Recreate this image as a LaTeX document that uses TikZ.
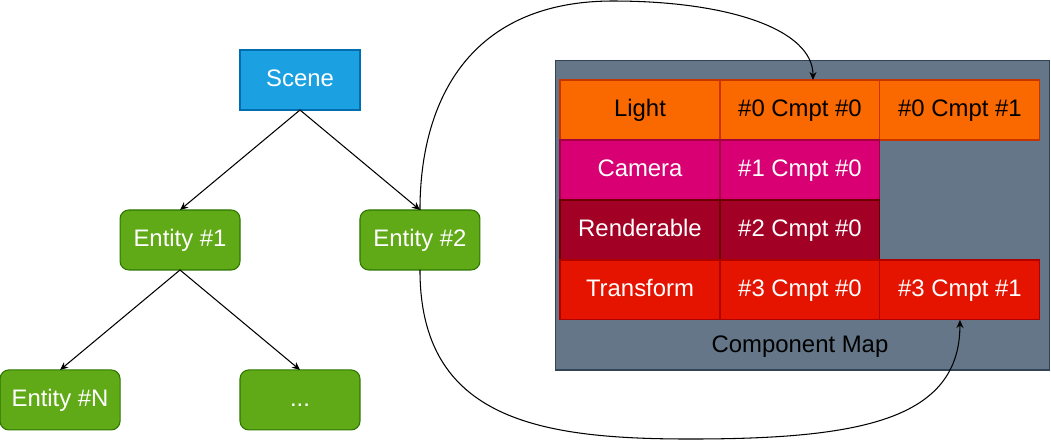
\documentclass[tikz,border=0pt]{standalone}
\usepackage{fontspec}
\setmainfont{Liberation Sans}
\usepackage{tikz}
\usetikzlibrary{arrows.meta, positioning, calc}

\definecolor{sceneblue}{HTML}{1BA1E2}
\definecolor{sceneline}{HTML}{006EAF}
\definecolor{entgreen}{HTML}{60A917}
\definecolor{entline}{HTML}{2D7600}
\definecolor{mapgray}{HTML}{647687}
\definecolor{mapline}{HTML}{314354}
\definecolor{lightorange}{HTML}{FA6800}
\definecolor{lightline}{HTML}{C73500}
\definecolor{cammagenta}{HTML}{D80073}
\definecolor{camline}{HTML}{A50040}
\definecolor{rendred}{HTML}{A20025}
\definecolor{rendline}{HTML}{6F0000}
\definecolor{transred}{HTML}{E51400}
\definecolor{transline}{HTML}{B20000}

\begin{document}
\begin{tikzpicture}[
    x=0.02cm, y=-0.02cm,
    every node/.style={font=\fontsize{13.6}{16}\selectfont, inner sep=0pt, outer sep=0pt,
        text height=0.716em, text depth=0pt},
    scenebox/.style={rectangle, draw=sceneline, fill=sceneblue, text=white,
        minimum width=2.4cm, minimum height=1.2cm, line width=0.6pt},
    entity/.style={rectangle, rounded corners=5pt, draw=entline, fill=entgreen, text=white,
        minimum width=2.4cm, minimum height=1.2cm, line width=0.6pt},
    mapbox/.style={rectangle, draw=mapline, fill=mapgray, minimum width=9.9cm,
        minimum height=6.2cm, line width=0.6pt},
    cell/.style={rectangle, minimum width=3.2cm, minimum height=1.2cm, line width=0.6pt},
    lightcell/.style={cell, draw=lightline, fill=lightorange, text=black},
    camcell/.style={cell, draw=camline, fill=cammagenta, text=white},
    rendcell/.style={cell, draw=rendline, fill=rendred, text=white},
    transcell/.style={cell, draw=transline, fill=transred, text=white},
    arr/.style={-{Stealth[length=1.6mm, width=1.4mm, inset=0.5mm]}, line width=0.6pt, black},
]
\useasboundingbox (0,0) rectangle (1051,441);

% entity tree
\node[scenebox] (scene) at (300,80) {Scene};
\node[entity, below=2cm of scene, xshift=-2.4cm] (e1) {Entity \#1};
\node[entity, below=2cm of scene, xshift=2.4cm] (e2) {Entity \#2};
\node[entity, below=2cm of e1, xshift=-2.4cm] (eN) {Entity \#N};
\node[entity, below=2cm of e1, xshift=2.4cm] (edots) {...};

\draw[arr] (scene.south) -- (e1.north);
\draw[arr] (scene.south) -- (e2.north);
\draw[arr] (e1.south) -- (eN.north);
\draw[arr] (e1.south) -- (edots.north);

% component map
\node[mapbox] (map) at (802.5,215) {};
\node[anchor=base] (maplabel) at (800,352) {Component Map};

\node[lightcell] (c00) at (640,110) {Light};
\node[lightcell, right=0pt of c00] (c01) {\#0 Cmpt \#0};
\node[lightcell, right=0pt of c01] (c02) {\#0 Cmpt \#1};
\node[camcell, below=0pt of c00] (c10) {Camera};
\node[camcell, right=0pt of c10] (c11) {\#1 Cmpt \#0};
\node[rendcell, below=0pt of c10] (c20) {Renderable};
\node[rendcell, right=0pt of c20] (c21) {\#2 Cmpt \#0};
\node[transcell, below=0pt of c20] (c30) {Transform};
\node[transcell, right=0pt of c30] (c31) {\#3 Cmpt \#0};
\node[transcell, right=0pt of c31] (c32) {\#3 Cmpt \#1};

% links from entity #2 into the map
\coordinate (topbend) at (613,1);
\coordinate (botbend) at (690,439);
\draw[arr] (e2.north) .. controls +(0,-110) and +(-143,0) .. (topbend)
    .. controls +(117,0) and +(0,-50) .. ([xshift=0.26cm]c01.north);
\draw[arr] (e2.south) .. controls +(0,150) and +(-150,0) .. (botbend)
    .. controls +(170,0) and +(0,100) .. (c32.south);
\end{tikzpicture}
\end{document}
